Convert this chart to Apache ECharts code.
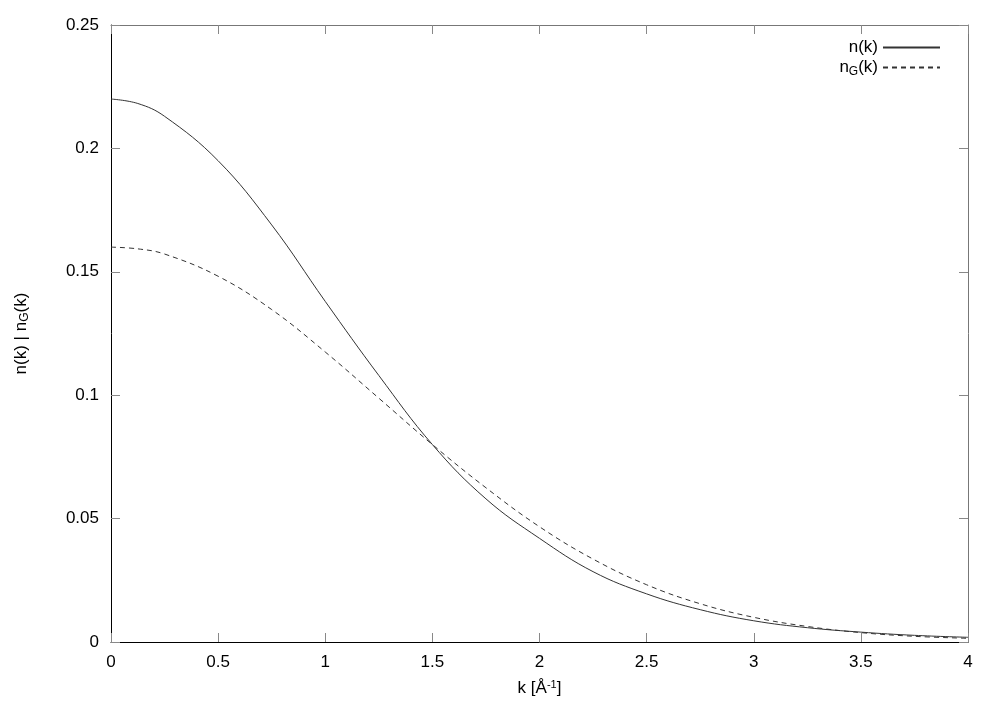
<!DOCTYPE html>
<html>
<head>
<meta charset="utf-8">
<script src="https://cdn.jsdelivr.net/npm/echarts@6/dist/echarts.min.js"></script>
<style>
html,body{margin:0;padding:0;background:#fff;}
#chart{width:1002px;height:702px;}
</style>
</head>
<body>
<div id="chart"></div>
<script>
// k values [1/Å]
const kValues = [0, 0.125, 0.25, 0.5, 0.75, 1.0, 1.25, 1.5, 1.75, 2.0, 2.25, 2.5, 2.75, 3.0, 3.25, 3.5, 3.75, 4.0];
// n(k) (solid)
const nValues = [0.2200, 0.2182, 0.2130, 0.1950, 0.1690, 0.1380, 0.1080, 0.0800, 0.0580, 0.0420, 0.0285, 0.0195, 0.0131, 0.0086, 0.0058, 0.0040, 0.0027, 0.0019];
// n_G(k) (dashed)
const nGValues = [0.1600, 0.1593, 0.1572, 0.1482, 0.1347, 0.1175, 0.0988, 0.0800, 0.0625, 0.0467, 0.0336, 0.0232, 0.0155, 0.0100, 0.0063, 0.0038, 0.0023, 0.0015];

const xTickLabels = ['0', '0.5', '1', '1.5', '2', '2.5', '3', '3.5', '4'];
const yTickLabels = ['0', '0.05', '0.1', '0.15', '0.2', '0.25'];
const seriesNames = ['n(k)', 'n_G(k)'];

const FONT = 'Liberation Sans, Arial, sans-serif';
const chart = echarts.init(document.getElementById('chart'), null, {renderer: 'canvas'});

function pairs(ys) { return kValues.map((k, i) => [k, ys[i]]); }

const tickStyle = {show: true, inside: true, length: 9, lineStyle: {color: '#888', width: 1}};

chart.setOption({
  backgroundColor: '#fff',
  animation: false,
  grid: {left: 111, top: 25, right: 34, bottom: 58},
  legend: {
    data: seriesNames,
    orient: 'vertical',
    right: 56,
    top: 34,
    align: 'right',
    itemWidth: 57,
    itemHeight: 10,
    itemGap: 3,
    itemStyle: {opacity: 0},
    textStyle: {
      fontFamily: FONT, fontSize: 17, color: '#000',
      rich: {
        t: {fontFamily: FONT, fontSize: 17, color: '#000'},
        sub: {fontFamily: FONT, fontSize: 12, color: '#000', verticalAlign: 'bottom', padding: [8, 0, 0, 0]}
      }
    },
    formatter: function (name) {
      if (name === 'n_G(k)') return '{t|n}{sub|G}{t|(k)}';
      return '{t|n(k)}';
    }
  },
  xAxis: [{
    type: 'value', min: 0, max: 4, interval: 0.5, position: 'bottom',
    axisLine: {show: true, onZero: false, lineStyle: {color: '#000', width: 1}},
    axisTick: tickStyle,
    splitLine: {show: false},
    axisLabel: {
      margin: 12, fontFamily: FONT, fontSize: 17, color: '#000',
      formatter: (v, i) => xTickLabels[Math.round(v / 0.5)]
    },
    name: '{t|k [Å}{sup|-1}{t|]}',
    nameLocation: 'middle',
    nameGap: 37,
    nameTextStyle: {
      fontFamily: FONT, fontSize: 17, color: '#000',
      rich: {
        t: {fontFamily: FONT, fontSize: 17, color: '#000'},
        sup: {fontFamily: FONT, fontSize: 11, color: '#000', verticalAlign: 'top', padding: [0, 0, 8, 0]}
      }
    }
  }, {
    type: 'value', min: 0, max: 4, interval: 0.5, position: 'top',
    axisLine: {show: true, onZero: false, lineStyle: {color: '#777', width: 1}},
    axisTick: tickStyle,
    axisLabel: {show: false},
    splitLine: {show: false}
  }],
  yAxis: [{
    type: 'value', min: 0, max: 0.25, interval: 0.05, position: 'left',
    axisLine: {show: true, onZero: false, lineStyle: {color: '#000', width: 1}},
    axisTick: tickStyle,
    splitLine: {show: false},
    axisLabel: {
      margin: 12, fontFamily: FONT, fontSize: 17, color: '#000',
      formatter: (v) => yTickLabels[Math.round(v / 0.05)]
    },
    name: '{t|n(k) | n}{sub|G}{t|(k)}',
    nameLocation: 'middle',
    nameGap: 80,
    nameRotate: 90,
    nameTextStyle: {
      fontFamily: FONT, fontSize: 17, color: '#000',
      rich: {
        t: {fontFamily: FONT, fontSize: 17, color: '#000'},
        sub: {fontFamily: FONT, fontSize: 12, color: '#000', verticalAlign: 'bottom', padding: [8, 0, 0, 0]}
      }
    }
  }, {
    type: 'value', min: 0, max: 0.25, interval: 0.05, position: 'right',
    axisLine: {show: true, onZero: false, lineStyle: {color: '#777', width: 1}},
    axisTick: tickStyle,
    axisLabel: {show: false},
    splitLine: {show: false}
  }],
  series: [{
    name: seriesNames[0], type: 'line', xAxisIndex: 0, yAxisIndex: 0,
    data: pairs(nValues), smooth: 0.4, smoothConstraint: false,
    showSymbol: false, symbol: 'none',
    lineStyle: {color: '#333', width: 1, type: 'solid'},
    itemStyle: {color: '#333'}
  }, {
    name: seriesNames[1], type: 'line', xAxisIndex: 0, yAxisIndex: 0,
    data: pairs(nGValues), smooth: 0.4, smoothConstraint: false,
    showSymbol: false, symbol: 'none',
    lineStyle: {color: '#333', width: 1, type: [5, 4]},
    itemStyle: {color: '#333'}
  }]
});
</script>
</body>
</html>
